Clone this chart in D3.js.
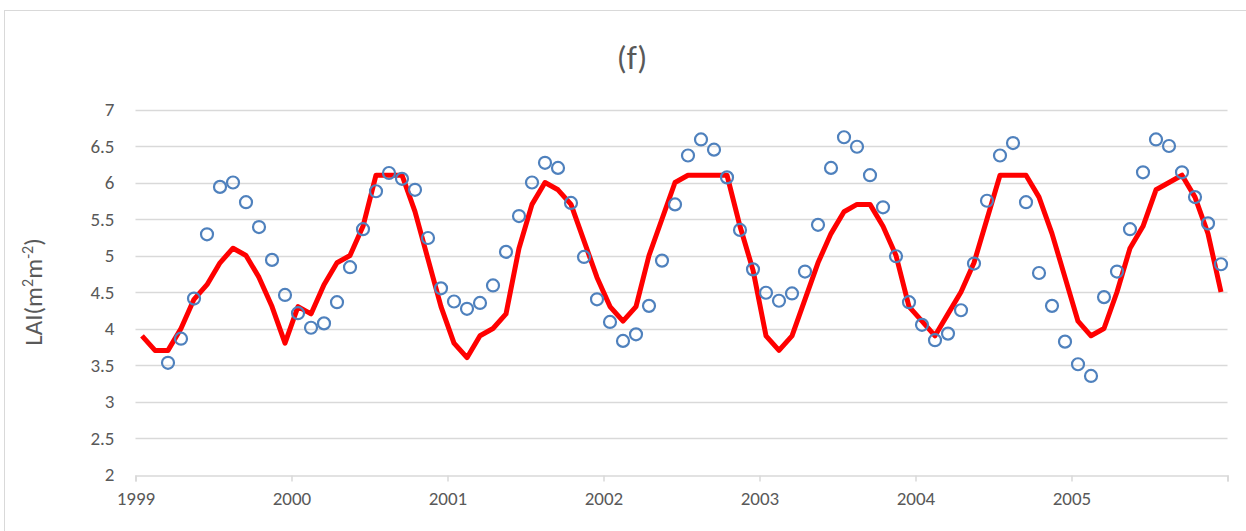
<!DOCTYPE html>
<html>
<head>
<meta charset="utf-8">
<script src="https://cdn.jsdelivr.net/npm/d3@7"></script>
<style>
  body { margin: 0; background: #fff; }
  svg text { font-family: Carlito, Calibri, "Open Sans", sans-serif; fill: #595959; }
</style>
</head>
<body>
<div id="chart"></div>
<script>
// monthly values, Jan 1999 .. Dec 2005
var years = [1999, 2000, 2001, 2002, 2003, 2004, 2005];
var yearTicks = [1999, 2000, 2001, 2002, 2003, 2004, 2005, 2006];
var yTicks = [2, 2.5, 3, 3.5, 4, 4.5, 5, 5.5, 6, 6.5, 7];

// red line
var simulated = [
  3.9, 3.7, 3.7, 4.0, 4.4, 4.6, 4.9, 5.1, 5.0, 4.7, 4.3, 3.8,
  4.3, 4.2, 4.6, 4.9, 5.0, 5.4, 6.1, 6.1, 6.1, 5.6, 4.95, 4.3,
  3.8, 3.6, 3.9, 4.0, 4.2, 5.1, 5.7, 6.0, 5.9, 5.7, 5.2, 4.7,
  4.3, 4.1, 4.3, 5.0, 5.5, 6.0, 6.1, 6.1, 6.1, 6.1, 5.4, 4.8,
  3.9, 3.7, 3.9, 4.4, 4.9, 5.3, 5.6, 5.7, 5.7, 5.4, 5.0, 4.3,
  4.1, 3.9, 4.2, 4.5, 4.9, 5.5, 6.1, 6.1, 6.1, 5.8, 5.3, 4.7,
  4.1, 3.9, 4.0, 4.5, 5.1, 5.4, 5.9, 6.0, 6.1, 5.8, 5.3, 4.5
];

// blue circles (no value for Jan/Feb 1999)
var observed = [
  null, null, 3.53, 3.86, 4.41, 5.29, 5.94, 6.00, 5.73, 5.39, 4.94, 4.46,
  4.21, 4.01, 4.07, 4.36, 4.84, 5.36, 5.88, 6.13, 6.05, 5.90, 5.24, 4.55,
  4.37, 4.27, 4.35, 4.59, 5.05, 5.54, 6.00, 6.27, 6.20, 5.72, 4.98, 4.40,
  4.09, 3.83, 3.92, 4.31, 4.93, 5.70, 6.37, 6.59, 6.45, 6.07, 5.35, 4.81,
  4.49, 4.38, 4.48, 4.78, 5.42, 6.20, 6.62, 6.49, 6.10, 5.66, 4.99, 4.36,
  4.05, 3.84, 3.93, 4.25, 4.89, 5.75, 6.37, 6.54, 5.73, 4.76, 4.31, 3.82,
  3.51, 3.35, 4.43, 4.78, 5.36, 6.14, 6.59, 6.50, 6.14, 5.80, 5.44, 4.88
];

// mid-month positions in decimal years
var months = [];
years.forEach(function(yr) {
  for (var m = 0; m < 12; m++) months.push(yr + (m + 0.5) / 12);
});

var width = 1246, height = 531;
var margin = {top: 109.5, right: 18.5, bottom: 56.5, left: 135.5};

var svg = d3.select("#chart").append("svg")
    .attr("width", width)
    .attr("height", height);

// chart frame
svg.append("rect")
    .attr("x", 4.5).attr("y", 10.5)
    .attr("width", 1260).attr("height", 540)
    .attr("fill", "none")
    .attr("stroke", "#d9d9d9")
    .attr("stroke-width", 1);

var x = d3.scaleLinear()
    .domain([1999, 2006])
    .range([margin.left, width - margin.right]);

var y = d3.scaleLinear()
    .domain([2, 7])
    .range([height - margin.bottom, margin.top]);

// horizontal gridlines
svg.append("g")
  .selectAll("line")
  .data(yTicks.slice(1))
  .enter().append("line")
    .attr("x1", x(1999)).attr("x2", x(2006))
    .attr("y1", function(d) { return Math.round(y(d)) + 0.5; })
    .attr("y2", function(d) { return Math.round(y(d)) + 0.5; })
    .attr("stroke", "#d9d9d9")
    .attr("stroke-width", 1.5);

// y axis labels
var yAxis = d3.axisLeft(y).tickValues(yTicks).tickSize(0).tickPadding(21)
    .tickFormat(function(d) { return d; });
var gy = svg.append("g")
    .attr("transform", "translate(" + margin.left + ",0)")
    .call(yAxis);
gy.select(".domain").remove();
gy.selectAll("text").style("font-size", "19px").attr("fill", "#595959");

// x axis
var xAxis = d3.axisBottom(x).tickValues(yearTicks).tickSize(6).tickPadding(10)
    .tickFormat(function(d) { return d < 2006 ? d : ""; });
var gx = svg.append("g")
    .attr("transform", "translate(0," + (Math.round(y(2)) + 0.5) + ")")
    .call(xAxis);
gx.select(".domain").attr("stroke", "#d9d9d9").attr("stroke-width", 1.5);
gx.selectAll(".tick line").attr("stroke", "#d9d9d9").attr("stroke-width", 1.5);
gx.selectAll("text").style("font-size", "19px").attr("fill", "#595959");

// red line
var line = d3.line()
    .x(function(d, i) { return x(months[i]); })
    .y(function(d) { return y(d); });

svg.append("path")
    .datum(simulated)
    .attr("d", line)
    .attr("fill", "none")
    .attr("stroke", "#ff0000")
    .attr("stroke-width", 5)
    .attr("stroke-linejoin", "round");

// circles
svg.append("g")
  .selectAll("circle")
  .data(observed.map(function(v, i) { return {t: months[i], v: v}; })
    .filter(function(d) { return d.v !== null; }))
  .enter().append("circle")
    .attr("cx", function(d) { return x(d.t); })
    .attr("cy", function(d) { return y(d.v); })
    .attr("r", 6)
    .attr("fill", "none")
    .attr("stroke", "#4f81bd")
    .attr("stroke-width", 2.2);

// title
svg.append("text")
    .attr("x", 632).attr("y", 69)
    .attr("text-anchor", "middle")
    .style("font-size", "33px")
    .text("(f)");

// y axis title
var yt = svg.append("text")
    .attr("transform", "translate(42," + y(4.5) + ") rotate(-90)")
    .attr("text-anchor", "middle")
    .style("font-size", "25px");
yt.append("tspan").text("LAI(m");
yt.append("tspan").attr("dy", -9).style("font-size", "16px").text("2");
yt.append("tspan").attr("dy", 9).text("m");
yt.append("tspan").attr("dy", -9).style("font-size", "16px").text("-2");
yt.append("tspan").attr("dy", 9).text(")");
</script>
</body>
</html>
